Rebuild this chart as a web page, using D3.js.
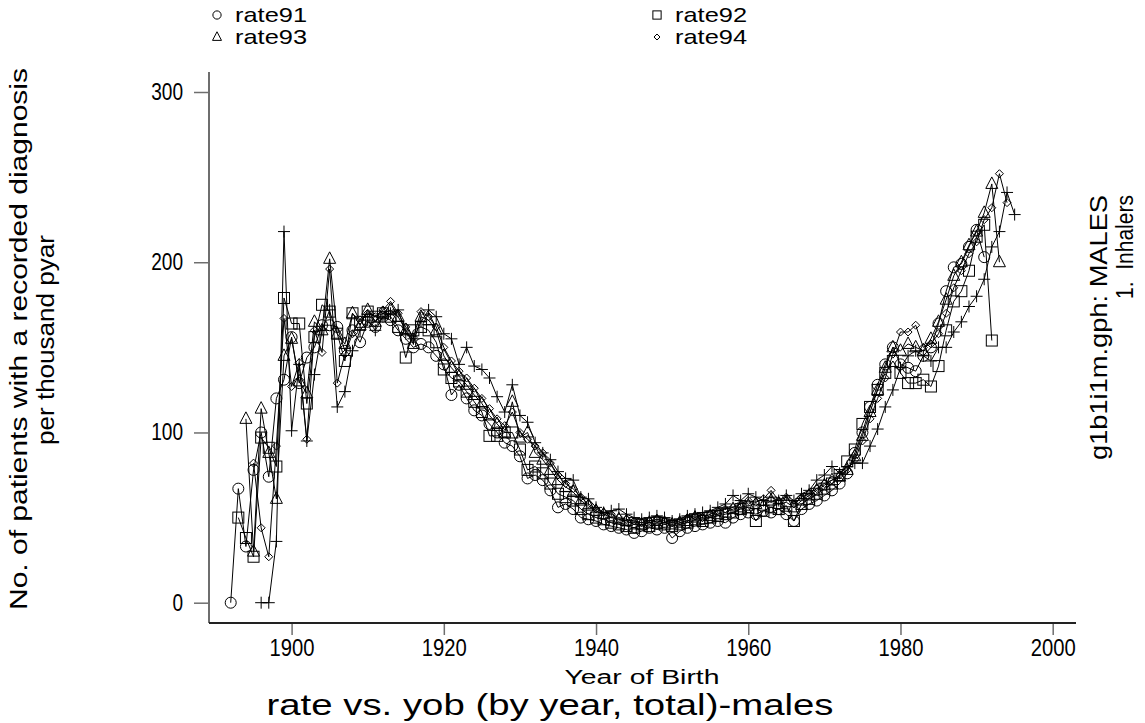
<!DOCTYPE html>
<html><head><meta charset="utf-8">
<script src="https://cdn.jsdelivr.net/npm/d3@7"></script>
<style>
body{margin:0;background:#fff;}
svg text{font-family:"Liberation Sans",Arial,Helvetica,sans-serif;fill:#000;white-space:pre;}
</style></head><body>
<svg id="c" width="1145" height="723"></svg>
<script>
// ---- data ----
const rate91Start = 1892;
const rate91 = [0,67,33,78,100,74,120,131,156,129,144,150,163,163,162,148,160,153,165,162,
168,166,160,155,150,152,150,145,140,122,128,120,113,110,105,100,94,92,86,73,
75,72,66,56,58,55,50,49,48,46,45,44,43,41,42,44,43,44,38,42,
44,45,46,47,48,47,50,52,53,52,54,53,55,52,48,55,58,60,63,66,
70,76,88,100,115,128,140,150,140,138,136,145,150,164,183,197,199,209,219,203];
const rate92Start = 1893;
const rate92 = [50,38,27,97,91,80,179,164,164,117,156,175,171,158,142,170,165,171,168,170,
168,162,144,160,162,160,153,137,132,130,124,118,112,98,98,100,100,90,78,80,
76,70,64,62,60,55,52,50,49,47,46,45,44,46,45,47,46,45,46,47,
49,48,50,51,52,53,55,56,48,54,56,55,57,48,58,61,64,67,70,75,
83,90,105,115,125,135,142,135,129,129,131,127,139,160,177,183,195,215,222,154];
const rate93Start = 1894;
const rate93 = [108,30,114,88,61,145,155,130,123,165,160,202,158,152,170,163,172,165,170,172,
168,160,152,168,166,160,145,138,133,128,122,117,110,105,100,118,97,100,88,84,
78,72,68,65,60,57,54,52,50,49,48,46,46,47,48,47,46,47,48,50,
49,51,52,53,55,56,57,58,57,60,58,59,56,60,63,66,69,72,74,78,
86,98,112,125,138,150,148,152,150,148,155,165,178,192,200,210,218,229,246,200];
const rate94Start = 1895;
const rate94 = [82,44,27,92,167,127,141,96,160,147,196,129,146,158,166,170,168,172,177,170,
162,156,171,168,162,150,142,136,132,126,120,114,108,104,112,100,96,92,88,82,
75,70,67,62,58,55,53,52,50,49,48,47,48,49,48,47,48,50,51,50,
52,54,55,56,58,60,59,61,66,60,62,58,62,64,67,70,72,75,78,84,
95,108,120,132,146,159,159,163,150,152,158,170,185,195,205,212,225,232,252,235];
const rate95Start = 1896;
const rate95 = [0,0,36,218,101,140,95,134,160,172,115,124,148,160,166,160,168,170,172,158,
155,165,172,168,158,155,140,150,139,137,132,121,112,128,110,106,94,88,84,77,
73,72,62,61,56,53,54,55,52,50,49,50,51,50,48,49,51,52,53,54,
56,58,63,60,64,62,60,62,60,63,60,64,66,72,75,80,76,80,82,82,
92,102,115,125,138,145,148,145,142,150,150,159,165,174,180,190,209,218,241,228];

const legendNames = ["rate91","rate92","rate93","rate94"];
const xTicks = [1900,1920,1940,1960,1980,2000];
const yTicks = [0,100,200,300];

const titleText = "rate vs. yob (by year, total)-males";
const xTitle = "Year of Birth";
const yTitle1 = "No. of patients with a recorded diagnosis";
const yTitle2 = "per thousand pyar";
const rTitle1 = "g1b1i1m.gph: MALES";
const rTitle2 = "1.  Inhalers";

// ---- drawing ----
const svg = d3.select("#c");
const x = d3.scaleLinear().domain([1900,2000]).range([291.6,1052.7]);
const y = d3.scaleLinear().domain([0,300]).range([602.7,92]);
const axisColor = "#6e6e6e";

// y axis
const gy = svg.append("g").attr("transform","translate(209,0)")
  .call(d3.axisLeft(y).tickValues(yTicks).tickSize(15).tickPadding(11).tickFormat(d3.format("d")));
gy.select(".domain").remove();
gy.selectAll(".tick line").attr("stroke",axisColor).attr("stroke-width",1.5);
gy.selectAll(".tick text").attr("font-size",23).attr("font-family","Liberation Sans, Arial, sans-serif").attr("fill","#000")
  .attr("textLength",d=>String(d).length*10.6).attr("lengthAdjust","spacingAndGlyphs");
svg.append("line").attr("x1",209).attr("x2",209).attr("y1",72).attr("y2",623).attr("stroke",axisColor).attr("stroke-width",2);

// x axis
const gx = svg.append("g").attr("transform","translate(0,623)")
  .call(d3.axisBottom(x).tickValues(xTicks).tickSize(12).tickPadding(5).tickFormat(d3.format("d")));
gx.select(".domain").remove();
gx.selectAll(".tick line").attr("stroke",axisColor).attr("stroke-width",1.5);
gx.selectAll(".tick text").attr("font-size",23).attr("font-family","Liberation Sans, Arial, sans-serif").attr("fill","#000")
  .attr("textLength",45).attr("lengthAdjust","spacingAndGlyphs");
svg.append("line").attr("x1",209).attr("x2",1076).attr("y1",623).attr("y2",623).attr("stroke","#222").attr("stroke-width",2);

// series
const series = [
  {start:rate91Start, vals:rate91, sym:"circle"},
  {start:rate92Start, vals:rate92, sym:"square"},
  {start:rate93Start, vals:rate93, sym:"triangle"},
  {start:rate94Start, vals:rate94, sym:"diamond"},
  {start:rate95Start, vals:rate95, sym:"plus"}
];
const line = d3.line().x(d=>x(d.yr)).y(d=>y(d.v));
const plot = svg.append("g");
series.forEach(s=>{
  s.pts = s.vals.map((v,i)=>({yr:s.start+i, v}));
  plot.append("path").datum(s.pts).attr("d",line).attr("fill","none").attr("stroke","#000").attr("stroke-width",1);
});
function marker(g, sym, cx, cy, k){
  k = k||1;
  if(sym==="circle") g.append("circle").attr("cx",cx).attr("cy",cy).attr("r",5.5*k);
  else if(sym==="square") g.append("rect").attr("x",cx-5.5*k).attr("y",cy-5.5*k).attr("width",11*k).attr("height",11*k);
  else if(sym==="triangle") g.append("path").attr("d",`M${cx},${cy-7*k}L${cx+6*k},${cy+4.5*k}L${cx-6*k},${cy+4.5*k}Z`);
  else if(sym==="diamond") g.append("path").attr("d",`M${cx},${cy-4*k}L${cx+4*k},${cy}L${cx},${cy+4*k}L${cx-4*k},${cy}Z`);
  else if(sym==="plus") g.append("path").attr("d",`M${cx-6*k},${cy}H${cx+6*k}M${cx},${cy-6*k}V${cy+6*k}`);
}
series.forEach(s=>{
  const g = plot.append("g").attr("fill","none").attr("stroke","#000").attr("stroke-width",1);
  s.pts.forEach(p=>marker(g, s.sym, x(p.yr), y(p.v)));
});

// legend
const leg = svg.append("g");
const legPos = [[217,15],[657,15],[217,37],[657,37]];
const legSym = ["circle","square","triangle","diamond"];
legendNames.forEach((n,i)=>{
  const [lx,ly] = legPos[i];
  const g = leg.append("g").attr("fill","none").attr("stroke","#000").attr("stroke-width",1);
  marker(g, legSym[i], lx, ly, 0.75);
  leg.append("text").attr("x",lx+18).attr("y",ly+7).attr("font-size",21)
    .attr("textLength",72).attr("lengthAdjust","spacingAndGlyphs").text(n);
});

// titles
function ttext(sel, len){ return sel.attr("textLength",len).attr("lengthAdjust","spacingAndGlyphs"); }
ttext(svg.append("text").attr("x",642).attr("y",684).attr("text-anchor","middle").attr("font-size",20), 155).text(xTitle);
ttext(svg.append("text").attr("x",550).attr("y",715).attr("text-anchor","middle").attr("font-size",30), 567).text(titleText);
ttext(svg.append("text").attr("transform","translate(27,339) rotate(-90)").attr("text-anchor","middle").attr("font-size",23), 542).text(yTitle1);
ttext(svg.append("text").attr("transform","translate(54,340) rotate(-90)").attr("text-anchor","middle").attr("font-size",23), 210).text(yTitle2);
ttext(svg.append("text").attr("transform","translate(1107,195) rotate(-90)").attr("text-anchor","end").attr("font-size",24), 265).text(rTitle1);
ttext(svg.append("text").attr("transform","translate(1133,195) rotate(-90)").attr("text-anchor","end").attr("font-size",23), 104).text(rTitle2);
</script></body></html>
